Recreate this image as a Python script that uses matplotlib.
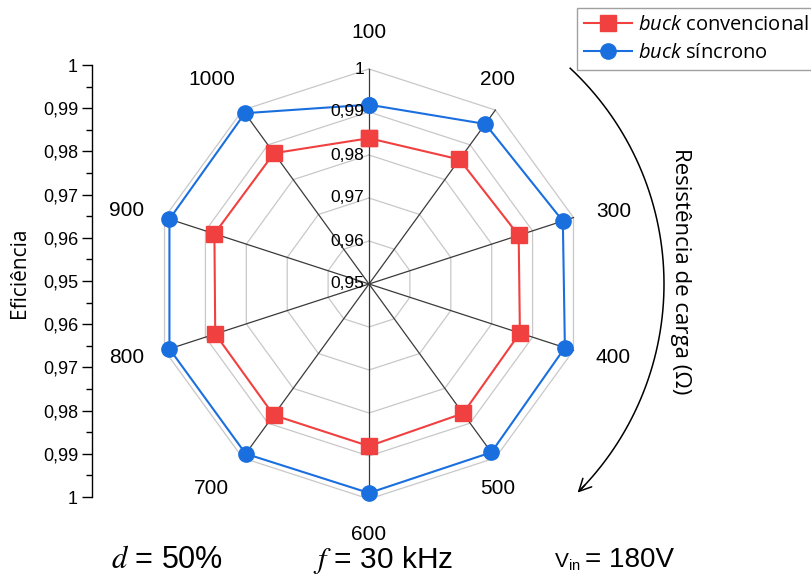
import numpy as np
import matplotlib
matplotlib.use('Agg')
import matplotlib.pyplot as plt

# ---------------- data ----------------
categories = ['100', '200', '300', '400', '500', '600', '700', '800', '900', '1000']
convencional = [0.9839, 0.9858, 0.9866, 0.9869, 0.9872, 0.9877, 0.9877, 0.9876, 0.9878, 0.9876]
sincrono = [0.9917, 0.9960, 0.9974, 0.9979, 0.9984, 0.9986, 0.9988, 0.9988, 0.9988, 0.9991]
r_ticks = [0.95, 0.96, 0.97, 0.98, 0.99, 1.00]
r_tick_labels = ['0,95', '0,96', '0,97', '0,98', '0,99', '1']
left_tick_pos = [5, 4, 3, 2, 1, 0, -1, -2, -3, -4, -5]
left_tick_labels = ['1', '0,99', '0,98', '0,97', '0,96', '0,95', '0,96', '0,97', '0,98', '0,99', '1']
series_labels = [r'$\mathit{buck}$ convencional', r'$\mathit{buck}$ síncrono']

# ---------------- style ----------------
plt.rcParams['font.family'] = ['Liberation Sans', 'DejaVu Sans']
plt.rcParams['mathtext.fontset'] = 'custom'
plt.rcParams['mathtext.it'] = 'Open Sans:italic'
plt.rcParams['mathtext.rm'] = 'Open Sans'

RED = '#F14040'
BLUE = '#1A6FDF'
W, H = 811, 579
fig = plt.figure(figsize=(W / 100, H / 100), dpi=100)

# polar axes: centre (369, 284), radius 215 px
cx, cy, R = 369, 284, 215
ax = fig.add_axes([(cx - R) / W, (H - cy - R) / H, 2 * R / W, 2 * R / H], projection='polar')
ax.set_theta_zero_location('N')
ax.set_theta_direction(-1)
ax.set_ylim(r_ticks[0], r_ticks[-1])
ax.grid(False)
ax.spines['polar'].set_visible(False)
ax.set_xticks([])
ax.set_yticks([])
ax.patch.set_alpha(0)

n = len(categories)
theta = np.arange(n) * 2 * np.pi / n
theta_c = np.append(theta, theta[0])

for rv in r_ticks[1:]:
    ax.plot(theta_c, [rv] * (n + 1), color='#c8c8c8', lw=0.9, zorder=1, clip_on=False)
for t in theta:
    ax.plot([t, t], [r_ticks[0], r_ticks[-1]], color='#3a3a3a', lw=0.9, zorder=2, clip_on=False)

l1, = ax.plot(theta_c, convencional + convencional[:1], color=RED, lw=1.5, marker='s', ms=11,
              mec=RED, zorder=4, clip_on=False)
l2, = ax.plot(theta_c, sincrono + sincrono[:1], color=BLUE, lw=1.5, marker='o', ms=11,
              mec=BLUE, zorder=4, clip_on=False)

for rv, lab in zip(r_ticks, r_tick_labels):
    ax.annotate(lab, xy=(0, rv), xytext=(-5, 0), textcoords='offset pixels',
                ha='right', va='center', fontsize=12.5, zorder=5)

label_offsets = [(0, 36), (2, 31), (40, 6), (40, -7), (2, -31),
                 (0, -36), (-31, -31), (-38, -7), (-38, 7), (-31, 31)]
for t, lab, off in zip(theta, categories, label_offsets):
    ax.annotate(lab, xy=(t, r_ticks[-1]), xytext=off, textcoords='offset pixels',
                ha='center', va='center', fontsize=15, annotation_clip=False)

# curved arrow
r_arc = r_ticks[0] + (r_ticks[-1] - r_ticks[0]) * 295 / R
ta = np.radians(np.linspace(43, 134, 200))
ax.plot(ta, [r_arc] * len(ta), color='black', lw=1.1, clip_on=False)
ax.annotate('', xy=(np.radians(135), r_arc), xytext=(np.radians(133), r_arc),
            arrowprops=dict(arrowstyle='->', lw=1.1, color='black', mutation_scale=22,
                            shrinkA=0, shrinkB=0), annotation_clip=False)

# left efficiency axis
la = fig.add_axes([92 / W, (H - 497) / H, 0.001, 432 / H])
la.set_ylim(-5, 5)
la.set_xticks([])
for s in ['top', 'right', 'bottom']:
    la.spines[s].set_visible(False)
la.spines['left'].set_linewidth(1.0)
la.set_yticks(left_tick_pos)
la.set_yticklabels(left_tick_labels, fontsize=13)
la.set_yticks(np.arange(-4.5, 5, 1), minor=True)
la.tick_params(axis='y', which='major', length=7, width=1, direction='out', pad=3)
la.tick_params(axis='y', which='minor', length=4, width=1, direction='out')
la.patch.set_alpha(0)

fig.text(20 / W, 1 - 273 / H, 'Eficiência', rotation=90, ha='center', va='center',
         fontsize=15, family=['Open Sans', 'DejaVu Sans'])
fig.text(680 / W, 1 - 271 / H, 'Resistência de carga (Ω)', rotation=-90, ha='center', va='center',
         fontsize=16, family=['Open Sans', 'DejaVu Sans'])

# legend
leg = fig.legend([l1, l2], series_labels, loc='upper left', bbox_to_anchor=(577 / W, 1 - 8 / H),
                 frameon=True, fancybox=False, edgecolor='#a0a0a0', framealpha=1,
                 prop={'family': ['Open Sans', 'DejaVu Sans'], 'size': 14.5},
                 handlelength=2.4, handletextpad=0.3, labelspacing=0.4, borderpad=0.35,
                 borderaxespad=0)
leg.get_frame().set_linewidth(1.0)

# bottom annotations
fig.text(167 / W, 1 - 560 / H, r'$d$ = 50%', ha='center', va='center', fontsize=22,
         math_fontfamily='stix')
fig.text(383 / W, 1 - 560 / H, r'$f$ = 30 kHz', ha='center', va='center', fontsize=21.5,
         math_fontfamily='stix')
fig.text(581 / W, 1 - 562 / H, r'V$_{\mathregular{in}}$', ha='right', va='center', fontsize=15)
fig.text(585 / W, 1 - 560 / H, '= 180V', ha='left', va='center', fontsize=20)

fig.savefig('out.png', dpi=100, facecolor='white')
